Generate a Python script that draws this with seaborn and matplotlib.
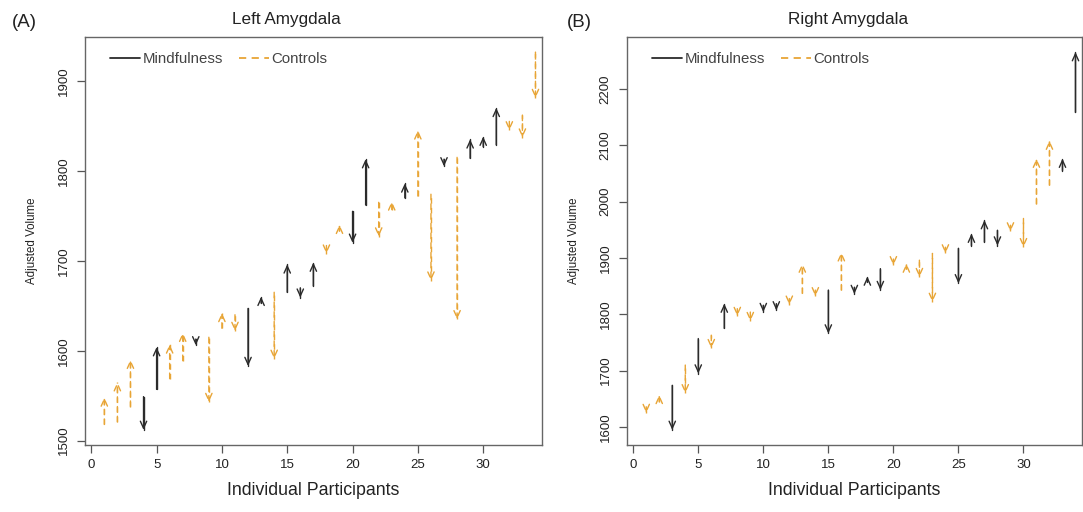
import pandas as pd
import matplotlib
matplotlib.use('Agg')
import matplotlib.pyplot as plt
import seaborn as sns

# participant index 1..34
participants = list(range(1, 35))

# Left amygdala: pre / post adjusted volume, group per participant
left_group = ['C', 'C', 'C', 'M', 'M', 'C', 'C', 'M', 'C', 'C',
              'C', 'M', 'M', 'C', 'M', 'M', 'M', 'C', 'C', 'M',
              'M', 'C', 'C', 'M', 'C', 'C', 'M', 'C', 'M', 'M',
              'M', 'C', 'C', 'C']
left_pre = [1518, 1521, 1538, 1549, 1557, 1569, 1589, 1613, 1615, 1625,
            1640, 1647, 1653, 1665, 1665, 1670, 1672, 1717, 1733, 1755,
            1762, 1765, 1757, 1770, 1772, 1774, 1813, 1815, 1814, 1827,
            1829, 1855, 1862, 1932]
left_post = [1548, 1565, 1590, 1512, 1604, 1607, 1620, 1606, 1543, 1642,
             1622, 1583, 1660, 1591, 1696, 1659, 1698, 1708, 1740, 1720,
             1813, 1727, 1766, 1786, 1845, 1678, 1805, 1635, 1835, 1838,
             1870, 1845, 1837, 1881]

# Right amygdala
right_group = ['C', 'C', 'M', 'C', 'M', 'C', 'M', 'C', 'C', 'M',
               'M', 'C', 'C', 'C', 'M', 'C', 'M', 'M', 'M', 'C',
               'C', 'C', 'C', 'C', 'M', 'M', 'M', 'M', 'C', 'C',
               'C', 'C', 'M', 'M']
right_pre = [1636, 1645, 1674, 1710, 1757, 1763, 1775, 1810, 1804, 1816,
             1819, 1828, 1837, 1843, 1843, 1843, 1848, 1857, 1881, 1898,
             1880, 1896, 1908, 1919, 1917, 1922, 1928, 1949, 1958, 1970,
             1996, 2029, 2055, 2158]
right_post = [1625, 1657, 1595, 1660, 1695, 1740, 1819, 1797, 1788, 1804,
              1807, 1817, 1890, 1832, 1766, 1910, 1836, 1867, 1843, 1887,
              1890, 1866, 1822, 1908, 1855, 1943, 1967, 1922, 1947, 1919,
              2076, 2108, 2076, 2265]

colors = {'M': '#2b2b2b', 'C': '#e8a536'}
styles = {'M': '-', 'C': (0, (4, 3))}

sns.set_theme(style='ticks')
plt.rcParams['font.family'] = ['Liberation Sans', 'DejaVu Sans']

fig = plt.figure(figsize=(10.83, 5.12), dpi=100)
ax1 = fig.add_axes([85 / 1083, 67 / 512, 457 / 1083, 408 / 512])
ax2 = fig.add_axes([627 / 1083, 67 / 512, 455 / 1083, 408 / 512])


def draw_panel(ax, group, pre, post, title, title_x, tag, tag_x, yticks):
    df = pd.DataFrame({'participant': participants * 2,
                       'volume': pre + post,
                       'group': group * 2})
    df['group'] = df['group'].map({'M': 'Mindfulness', 'C': 'Controls'})
    sns.lineplot(data=df, x='participant', y='volume', hue='group', style='group',
                 units='participant', estimator=None, ax=ax, lw=1.0,
                 palette={'Mindfulness': colors['M'], 'Controls': colors['C']},
                 dashes={'Mindfulness': '', 'Controls': (4, 3)},
                 hue_order=['Mindfulness', 'Controls'], legend=False)
    for p, g, a, b in zip(participants, group, pre, post):
        ax.annotate('', xy=(p, b), xytext=(p, a),
                    arrowprops=dict(arrowstyle='->,head_length=0.42,head_width=0.19',
                                    color=colors[g], lw=1.0, linestyle=styles[g],
                                    shrinkA=0, shrinkB=0))
    lo = min(pre + post)
    hi = max(pre + post)
    pad = (hi - lo) * 0.04
    ax.set_ylim(lo - pad, hi + pad)
    ax.set_xlim(-0.48, 34.5)
    ax.set_xticks([0, 5, 10, 15, 20, 25, 30])
    ax.set_yticks(yticks)
    ax.set_yticklabels([str(t) for t in yticks], rotation=90, va='center')
    ax.tick_params(axis='both', labelsize=9.5, length=6, width=0.9,
                   color='#555555', labelcolor='#222222')
    ax.tick_params(axis='y', pad=5)
    ax.tick_params(axis='x', pad=4)
    for s in ax.spines.values():
        s.set_visible(True)
        s.set_color('#666666')
        s.set_linewidth(1.0)
    ax.set_xlabel('Individual Participants', fontsize=12.8, color='#222222', labelpad=8)
    ax.set_ylabel('Adjusted Volume', fontsize=8.3, color='#222222', labelpad=14)
    ax.text(title_x, 1.044, title, transform=ax.transAxes, fontsize=12.3,
            color='#222222', ha='center', va='center')
    ax.text(tag_x, 1.035, tag, transform=ax.transAxes, fontsize=13.5, color='#222222',
            ha='left', va='center')
    handles = [plt.Line2D([], [], color=colors['M'], lw=1.3, linestyle='-'),
               plt.Line2D([], [], color=colors['C'], lw=1.3, linestyle=(0, (4, 3)))]
    ax.legend(handles, ['Mindfulness', 'Controls'], loc='upper left', ncol=2,
              bbox_to_anchor=(0.032, 0.988), frameon=False, fontsize=10.8,
              handlelength=2.0, handletextpad=0.15, columnspacing=1.1,
              borderaxespad=0.3, labelcolor='#444444')


draw_panel(ax1, left_group, left_pre, left_post, 'Left Amygdala', 0.44, '(A)', -0.16,
           [1500, 1600, 1700, 1800, 1900])
draw_panel(ax2, right_group, right_pre, right_post, 'Right Amygdala', 0.486, '(B)', -0.132,
           [1600, 1700, 1800, 1900, 2000, 2100, 2200])

fig.savefig('out.png', dpi=100)
